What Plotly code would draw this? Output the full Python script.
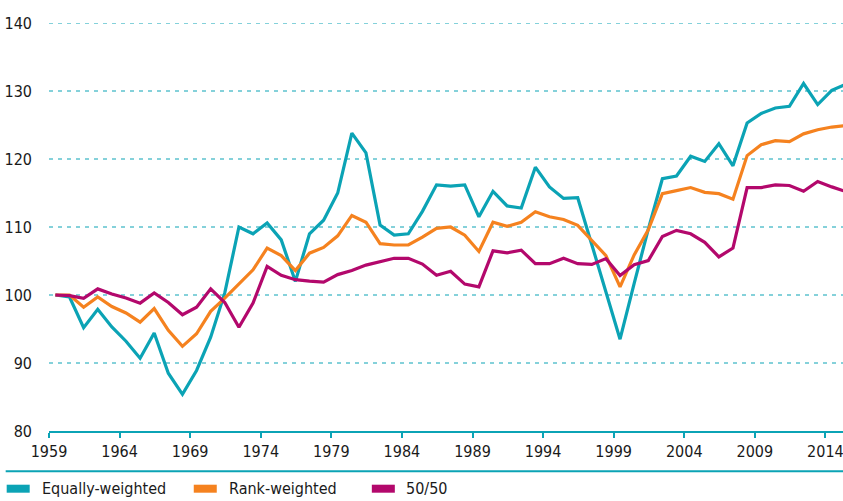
import plotly.graph_objects as go

years = list(range(1959, 2016))

equally_weighted = [
    100, 99.7, 95.2, 97.9, 95.3, 93.2, 90.7, 94.4, 88.5, 85.4,
    88.9, 93.8, 100.3, 110.0, 109.0, 110.6, 108.1, 102.0, 109.0, 111.0,
    115.0, 123.8, 120.9, 110.3, 108.8, 109.0, 112.3, 116.2, 116.0, 116.2,
    111.5, 115.25, 113.1, 112.8, 118.8, 115.9, 114.2, 114.3, 107.4, 100.4,
    93.5, 101.7, 109.7, 117.1, 117.5, 120.4, 119.65, 122.25, 119.0, 125.3,
    126.7, 127.5, 127.75, 131.1, 128.0, 130.1, 131.0,
]
rank_weighted = [
    100, 100, 98.2, 99.7, 98.3, 97.35, 96.0, 98.0, 94.8, 92.45,
    94.3, 97.6, 99.55, 101.7, 103.7, 106.9, 105.8, 103.6, 106.15, 107.0,
    108.7, 111.7, 110.7, 107.55, 107.35, 107.35, 108.5, 109.8, 110.0, 108.8,
    106.4, 110.7, 110.1, 110.7, 112.25, 111.5, 111.1, 110.25, 108.1, 105.8,
    101.2, 105.9, 109.6, 114.9, 115.35, 115.8, 115.1, 114.9, 114.1, 120.5,
    122.1, 122.7, 122.55, 123.7, 124.3, 124.7, 124.9,
]
fifty_fifty = [
    100, 99.9, 99.5, 100.9, 100.15, 99.55, 98.8, 100.3, 98.9, 97.1,
    98.2, 100.9, 98.9, 95.25, 98.8, 104.2, 102.9, 102.25, 102.05, 101.9,
    103.0, 103.6, 104.4, 104.9, 105.4, 105.4, 104.55, 102.9, 103.5, 101.6,
    101.2, 106.5, 106.2, 106.6, 104.6, 104.6, 105.4, 104.6, 104.5, 105.35,
    102.85, 104.45, 105.05, 108.6, 109.5, 109.0, 107.75, 105.6, 106.9, 115.8,
    115.8, 116.2, 116.1, 115.25, 116.7, 115.9, 115.2,
]

series_names = ["Equally-weighted", "Rank-weighted", "50/50"]
series_colors = ["#0BA3B5", "#F5821F", "#B3086C"]

tick_years = list(range(1959, 2015, 5))
y_ticks = [80, 90, 100, 110, 120, 130, 140]

# annual observations dated mid-year
x_dates = [f"{y}-06-15" for y in years]

W, H = 843, 501
PL, PR, PT, PB = 49.3, 843.0, 23.3, 431.3


def px(x):
    return (x - PL) / (PR - PL)


def py(y):
    return (PB - y) / (PB - PT)


FONT = "DejaVu Sans Condensed, sans-serif"
TEXT = "#1a1a1a"
TEAL = "#0BA3B5"
FS = 16

fig = go.Figure()
for name, vals, col in zip(series_names, [equally_weighted, rank_weighted, fifty_fifty], series_colors):
    fig.add_trace(go.Scatter(
        x=x_dates, y=vals, mode="lines", name=name,
        line=dict(color=col, width=3.2), showlegend=False,
    ))

# horizontal gridlines (dashed) except the baseline
for v in y_ticks[1:]:
    fig.add_shape(type="line", xref="paper", yref="y", x0=0, x1=1, y0=v, y1=v,
                  line=dict(color=TEAL, width=1, dash="4px,5px"), layer="below")

# separator line above legend
fig.add_shape(type="line", xref="paper", yref="paper", x0=px(6), x1=px(843),
              y0=py(471.5), y1=py(471.5), line=dict(color=TEAL, width=2))

# manual legend
legend_items = [(7, 40), (194, 227), (372, 404)]
for (sx, tx), name, col in zip(legend_items, series_names, series_colors):
    fig.add_shape(type="rect", xref="paper", yref="paper",
                  x0=px(sx), x1=px(sx + 23), y0=py(493), y1=py(485),
                  fillcolor=col, line=dict(width=0))
    fig.add_annotation(text=name, xref="paper", yref="paper", x=px(tx), y=py(489),
                       xanchor="left", yanchor="middle", showarrow=False,
                       font=dict(family=FONT, size=FS, color=TEXT))

fig.update_layout(
    width=W, height=H,
    margin=dict(l=49, r=0, t=23, b=70),
    paper_bgcolor="white", plot_bgcolor="white",
    font=dict(family=FONT, size=FS, color=TEXT),
    xaxis=dict(
        type="date",
        range=["1959-01-01", "2015-04-01"],
        tickvals=[f"{y}-01-01" for y in tick_years],
        ticktext=[str(y) for y in tick_years],
        ticks="outside", ticklen=5, tickwidth=1.5, tickcolor=TEAL,
        showline=True, linecolor=TEAL, linewidth=2,
        showgrid=False, zeroline=False,
        ticklabeloverflow="allow",
        tickfont=dict(family=FONT, size=FS, color=TEXT),
    ),
    yaxis=dict(
        range=[80, 140],
        tickvals=y_ticks,
        showgrid=False, zeroline=False, showline=False,
        ticks="", ticklabelstandoff=16,
        tickfont=dict(family=FONT, size=FS, color=TEXT),
    ),
)

fig.write_html(
    "out.html",
    config={"displayModeBar": False},
    post_script="document.body.style.margin='0';document.body.style.overflow='hidden';",
)
